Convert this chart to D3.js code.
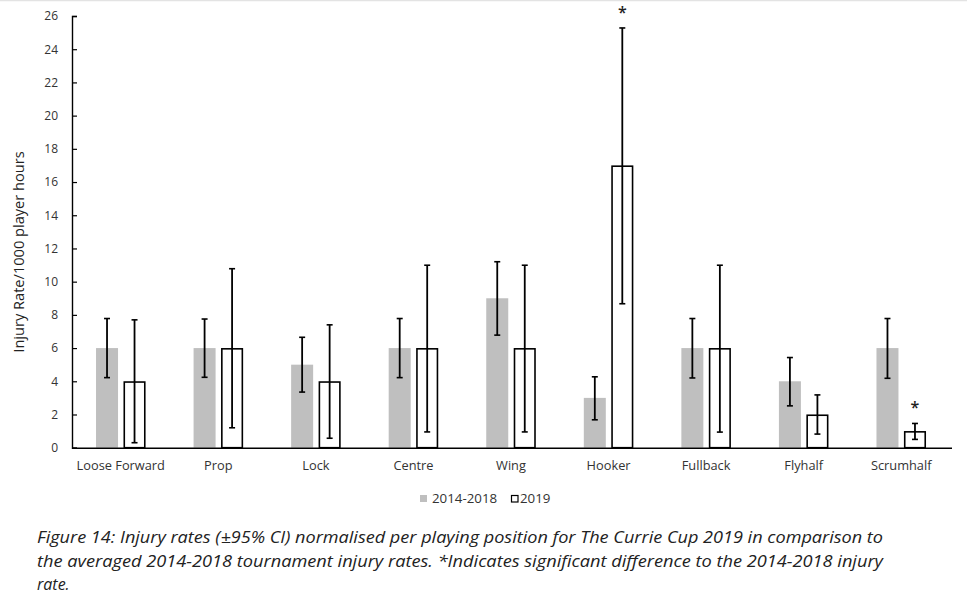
<!DOCTYPE html>
<html><head><meta charset="utf-8">
<script src="https://cdn.jsdelivr.net/npm/d3@7"></script>
<style>
html,body{margin:0;padding:0;background:#fff;}
svg{display:block;}
</style></head>
<body>
<svg id="chart" width="967" height="594"></svg>
<script>
const categories = ["Loose Forward","Prop","Lock","Centre","Wing","Hooker","Fullback","Flyhalf","Scrumhalf"];
const series = ["2014-2018","2019"];
const rate2014_2018 = [6, 6, 5, 6, 9, 3, 6, 4, 6];
const low2014_2018  = [4.22, 4.24, 3.35, 4.22, 6.78, 1.68, 4.2, 2.52, 4.18];
const high2014_2018 = [7.78, 7.75, 6.65, 7.78, 11.2, 4.27, 7.78, 5.43, 7.78];
const rate2019 = [4, 6, 4, 6, 6, 17, 6, 2, 1];
const low2019  = [0.3, 1.2, 0.57, 0.95, 0.95, 8.67, 0.94, 0.82, 0.5];
const high2019 = [7.7, 10.78, 7.4, 10.99, 10.99, 25.28, 10.99, 3.18, 1.46];
const significant2019 = [false,false,false,false,false,true,false,false,true];
const yTicks = [0,2,4,6,8,10,12,14,16,18,20,22,24,26];
const yLabel = "Injury Rate/1000 player hours";
const captionLines = [
  "Figure 14: Injury rates (\u00B195% CI) normalised per playing position for The Currie Cup 2019 in comparison to",
  "the averaged 2014-2018 tournament injury rates. *Indicates significant difference to the 2014-2018 injury",
  "rate."
];

(function(){
const svg = d3.select("#chart");
const font = "'Open Sans', 'Noto Sans', sans-serif";
const txt = "#333";
const pL = 72, pR = 950, pT = 16, pB = 447.7;

svg.append("line").attr("x1",0).attr("x2",967).attr("y1",0.5).attr("y2",0.5)
  .attr("stroke","#e3e3e3").attr("stroke-width",1.5);

const x = d3.scaleBand().domain(categories).range([pL, pR]).paddingInner(0).paddingOuter(0);
const y = d3.scaleLinear().domain([0,26]).range([pB, pT]);
const inner = d3.scaleBand().domain(series).range([-27.5, 27.5]).paddingInner(0.2).paddingOuter(0.1);

const rows = categories.map((c,i)=>({c, vals:[
  {s:series[0], v:rate2014_2018[i], lo:low2014_2018[i], hi:high2014_2018[i], sig:false},
  {s:series[1], v:rate2019[i], lo:low2019[i], hi:high2019[i], sig:significant2019[i]}
]}));

const g = svg.append("g");
const grp = g.selectAll(".grp").data(rows).enter().append("g")
  .attr("transform", d=>`translate(${x(d.c)+x.bandwidth()/2},0)`);

const bw = inner.bandwidth();
grp.selectAll("rect").data(d=>d.vals).enter().append("rect")
  .attr("x", d=> d.s===series[0] ? inner(d.s) : inner(d.s)+0.75)
  .attr("width", d=> d.s===series[0] ? bw : bw-1.5)
  .attr("y", d=> d.s===series[0] ? y(d.v) : y(d.v)+0.75)
  .attr("height", d=> d.s===series[0] ? pB - y(d.v) : pB - y(d.v) - 0.75)
  .attr("fill", d=> d.s===series[0] ? "#bfbfbf" : "#fff")
  .attr("stroke", d=> d.s===series[0] ? "none" : "#000")
  .attr("stroke-width", 1.6);

const eb = grp.selectAll(".eb").data(d=>d.vals).enter().append("g")
  .attr("transform", d=>`translate(${inner(d.s)+bw/2},0)`);
eb.append("line").attr("x1",0).attr("x2",0).attr("y1",d=>y(d.lo)).attr("y2",d=>y(d.hi))
  .attr("stroke","#000").attr("stroke-width",1.8);
eb.append("line").attr("x1",-3).attr("x2",3).attr("y1",d=>y(d.lo)).attr("y2",d=>y(d.lo))
  .attr("stroke","#000").attr("stroke-width",1.6);
eb.append("line").attr("x1",-3).attr("x2",3).attr("y1",d=>y(d.hi)).attr("y2",d=>y(d.hi))
  .attr("stroke","#000").attr("stroke-width",1.6);
eb.filter(d=>d.sig).append("text").attr("x",0).attr("y",d=>y(d.hi)-10)
  .attr("text-anchor","middle").attr("font-family",font).attr("font-size",16)
  .attr("font-weight",600).attr("fill","#222").text("*");

const yAxis = d3.axisLeft(y).tickValues(yTicks).tickSizeInner(-5).tickSizeOuter(-5).tickPadding(14);
const ya = svg.append("g").attr("transform",`translate(${pL},0)`).call(yAxis);
ya.select(".domain").attr("stroke","#000").attr("stroke-width",1.4);
ya.selectAll(".tick line").attr("stroke","#000").attr("stroke-width",1.2);
ya.selectAll(".tick text").attr("font-family",font).attr("font-size",12).attr("fill",txt);

const xAxis = d3.axisBottom(x).tickSize(0).tickPadding(13);
const xa = svg.append("g").attr("transform",`translate(0,${pB})`).call(xAxis);
xa.select(".domain").attr("stroke","#000").attr("stroke-width",1.4).attr("d",`M${pL},0.5H952`);
xa.selectAll(".tick text").attr("font-family",font).attr("font-size",12.8).attr("fill",txt);

svg.append("text").attr("transform","translate(24,252) rotate(-90)")
  .attr("text-anchor","middle").attr("font-family",font).attr("font-size",14.6)
  .attr("fill","#222").text(yLabel);

const leg = svg.append("g").attr("transform","translate(420,495)");
leg.append("rect").attr("x",0).attr("y",0).attr("width",7).attr("height",7).attr("fill","#bfbfbf");
leg.append("text").attr("x",12).attr("y",7.8).attr("font-family",font).attr("font-size",13.3)
  .attr("fill",txt).text(series[0]);
leg.append("rect").attr("x",91.5).attr("y",0.5).attr("width",6.5).attr("height",6.5)
  .attr("fill","#fff").attr("stroke","#000").attr("stroke-width",1.2);
leg.append("text").attr("x",100).attr("y",7.8).attr("font-family",font).attr("font-size",13.3)
  .attr("fill",txt).text(series[1]);

const capW = [846, 846, null];
svg.selectAll(".cap").data(captionLines).enter().append("text")
  .attr("x",37).attr("y",(d,i)=>543 + i*23.5)
  .attr("font-family",font).attr("font-style","italic").attr("font-weight",400)
  .attr("font-size",16).attr("fill","#222")
  .each(function(d,i){ if(capW[i]) d3.select(this).attr("textLength",capW[i]).attr("lengthAdjust","spacingAndGlyphs"); })
  .text(d=>d);
})();
</script>
</body></html>
